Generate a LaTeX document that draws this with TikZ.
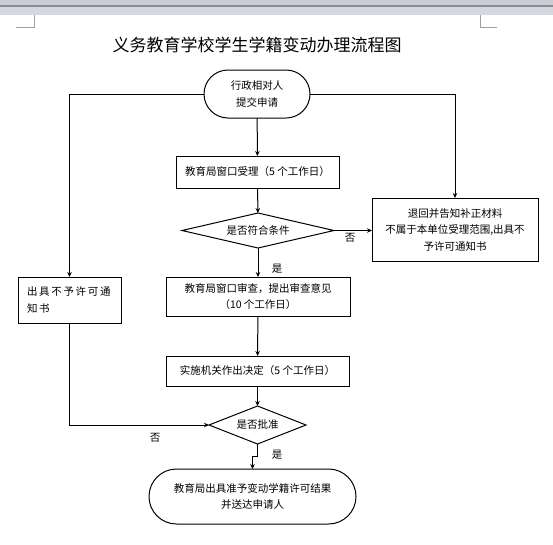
\documentclass[tikz,border=0pt]{standalone}
\usepackage{fontspec}
\setmainfont{Noto Sans CJK SC}
\usetikzlibrary{arrows.meta,shapes.geometric,shapes.misc}
\definecolor{hdrA}{RGB}{201,204,214}
\definecolor{hdrB}{RGB}{212,215,223}
\definecolor{hdrLine}{RGB}{140,140,140}
\definecolor{cornerGray}{RGB}{160,160,160}
\tikzset{
  every node/.style={inner sep=0pt, outer sep=0pt},
  txt/.style={font=\fontsize{10.5}{16.5}\selectfont, align=center},
  pbox/.style={draw, line width=1pt, txt},
  term/.style={draw, line width=1pt, rounded rectangle, txt},
  dia/.style={draw, line width=1pt, diamond, aspect=4, txt},
  conn/.style={line width=1pt, -{Stealth[length=5pt,width=4.5pt]}},
  lbl/.style={font=\fontsize{10.5}{12}\selectfont},
}
\begin{document}
\begin{tikzpicture}[x=1pt,y=-1pt]
\useasboundingbox (0,0) rectangle (553,544);
% window header
\fill[hdrA] (0,0) rectangle (553,5);
\fill[hdrB] (0,7) rectangle (553,15);
\draw[hdrLine, line width=1.5pt] (0,5.8) -- (553,5.8);
\draw[cornerGray, line width=0.8pt] (34,15) -- (34,27) -- (16,27);
\draw[cornerGray, line width=0.8pt] (480,15) -- (480,27) -- (497,27);
% title
\node[font=\fontsize{17}{20}\selectfont] (title) at (257,45) {义务教育学校学生学籍变动办理流程图};
% nodes
\node[term, minimum width=106, minimum height=48] (start) at (257,94) {行政相对人\\提交申请};
\node[pbox, minimum width=163, minimum height=32] (b1) at (257.5,172) {教育局窗口受理（5 个工作日）};
\node[dia, minimum width=152, minimum height=35] (d1) at (258,230.5) {是否符合条件};
\node[pbox, minimum width=166, minimum height=63] (rb) at (455,229.5) {退回并告知补正材料\\不属于本单位受理范围,出具不\\予许可通知书};
\node[pbox, minimum width=103, minimum height=46] (lb) at (69.5,300) {};
\node[txt, align=left, anchor=west, font=\addfontfeature{LetterSpace=16}\fontsize{10.5}{17}\selectfont] (lbt) at (27,300) {出具不予许可通\\知书};
\node[pbox, minimum width=184, minimum height=39] (b2) at (258,296.5) {教育局窗口审查，提出审查意见\\（10 个工作日）};
\node[pbox, minimum width=183, minimum height=30] (b3) at (257.5,371) {实施机关作出决定（5 个工作日）};
\node[dia, minimum width=97, minimum height=38] (d2) at (257.5,425) {是否批准};
\node[term, minimum width=207, minimum height=55] (end) at (252.5,496.5) {教育局出具准予变动学籍许可结果\\并送达申请人};
% connectors
\draw[conn] (start.west) -| (lb.north);
\draw[conn] (start.east) -| (rb.north);
\draw[conn] (start) -- (b1);
\draw[conn] (b1) -- (d1);
\draw[conn] (d1.east) -- (d1.east -| rb.west);
\draw[conn] (d1.south) -- (b2.north);
\draw[conn] (b2) -- (b3);
\draw[conn] (b3) -- (d2);
\draw[conn] (lb.south) |- (d2.west);
\draw[conn] (d2.south) -- ++(0,12) -| (end.north);
% labels
\node[lbl] (l1) at (350,238) {否};
\node[lbl] (l2) at (277,269) {是};
\node[lbl] (l3) at (155,438) {否};
\node[lbl] (l4) at (277,455) {是};
\end{tikzpicture}
\end{document}
